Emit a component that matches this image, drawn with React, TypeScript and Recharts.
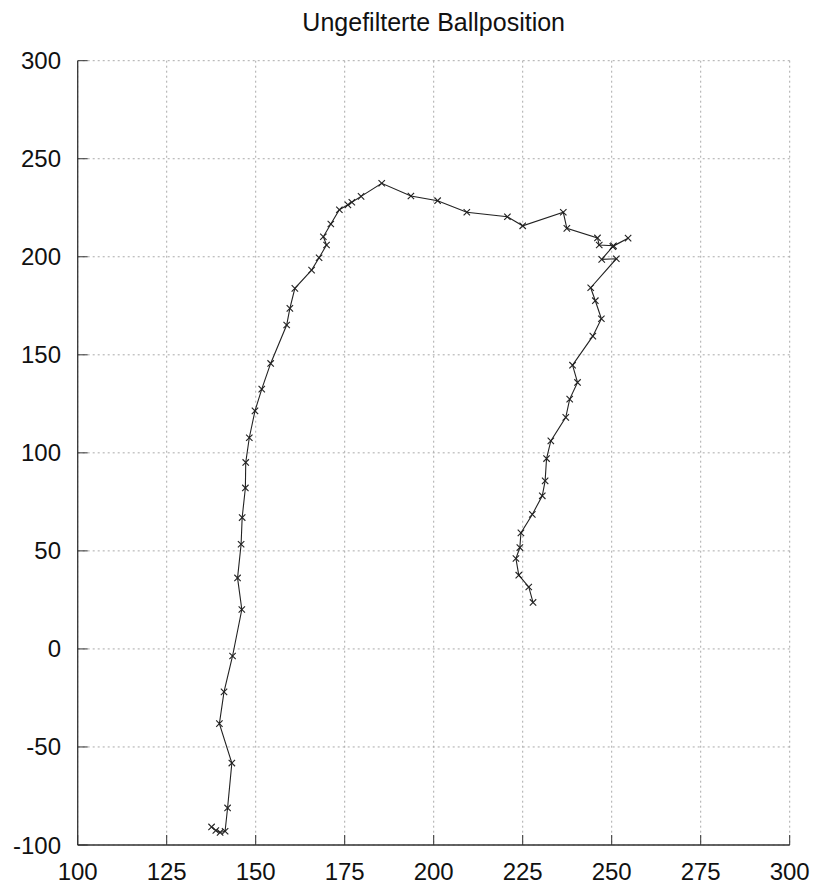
import React from 'react';
import {
  ScatterChart,
  Scatter,
  XAxis,
  YAxis,
  CartesianGrid,
} from 'recharts';

const chartTitle = 'Ungefilterte Ballposition';

const xTicks = [100, 125, 150, 175, 200, 225, 250, 275, 300];
const yTicks = [-100, -50, 0, 50, 100, 150, 200, 250, 300];

const ballX = [
  137.6, 138.8, 140.0, 141.4, 142.1, 143.3, 139.8, 141.1, 143.5, 146.1,
  144.9, 145.9, 146.2, 147.1, 147.2, 148.2, 149.8, 151.7, 154.2, 158.7,
  159.6, 161.0, 165.7, 167.8, 169.9, 169.0, 171.1, 173.5, 175.9, 177.0,
  179.6, 185.4, 193.6, 201.1, 209.3, 220.7, 225.0, 236.4, 237.4, 246.0,
  246.5, 250.5, 254.6, 250.3, 247.2, 251.3, 244.1, 245.4, 247.1, 244.7,
  239.0, 240.4, 238.2, 237.1, 232.9, 231.7, 231.3, 230.5, 227.7, 224.5,
  224.2, 223.1, 223.9, 226.7, 227.9,
];

const ballY = [
  -90.8, -92.6, -93.6, -93.0, -81.1, -58.2, -38.1, -21.9, -3.6, 20.1,
  36.2, 53.4, 67.0, 82.1, 95.1, 107.7, 121.4, 132.5, 145.6, 165.2,
  173.7, 183.9, 193.2, 199.5, 206.0, 210.2, 216.7, 224.0, 226.5, 227.8,
  230.8, 237.5, 231.0, 228.6, 222.7, 220.4, 215.8, 222.7, 214.5, 209.6,
  206.0, 205.6, 209.5, 205.2, 198.7, 199.0, 184.2, 177.6, 168.4, 159.5,
  144.7, 135.9, 127.4, 118.1, 106.1, 97.1, 85.7, 78.1, 68.6, 59.2,
  51.7, 46.1, 37.6, 31.6, 23.7,
];

const data = ballX.map((x, i) => ({ x, y: ballY[i] }));

const FONT = '"Liberation Sans", Arial, Helvetica, sans-serif';

const XMark = (props: any) => {
  const { cx, cy } = props;
  if (cx == null || cy == null) return null;
  const s = 3.2;
  return (
    <g>
      <line x1={cx - s} y1={cy - s} x2={cx + s} y2={cy + s} stroke="#222" strokeWidth={1.1} />
      <line x1={cx - s} y1={cy + s} x2={cx + s} y2={cy - s} stroke="#222" strokeWidth={1.1} />
    </g>
  );
};

const W = 819;
const H = 886;

export default function App() {
  const tickStyle = { fontSize: 24, fill: '#111', fontFamily: FONT };
  const frame = { stroke: '#333', strokeWidth: 1.3 };
  return (
    <div style={{ position: 'absolute', left: 0, top: 0, width: W, height: H, background: '#fff' }}>
      <ScatterChart
        width={W}
        height={H}
        margin={{ top: 60.7, right: 29.3, bottom: 0, left: 0 }}
      >
        <CartesianGrid stroke="#aaa" strokeDasharray="2 3" strokeWidth={1} />
        <XAxis
          type="number"
          dataKey="x"
          domain={[100, 300]}
          ticks={xTicks}
          allowDataOverflow
          height={41}
          tickSize={-10}
          tickMargin={28}
          axisLine={frame}
          tickLine={{ stroke: '#333', strokeWidth: 1 }}
          tick={tickStyle}
          interval={0}
        />
        <XAxis
          xAxisId="top"
          orientation="top"
          type="number"
          dataKey="x"
          domain={[100, 300]}
          ticks={xTicks}
          allowDataOverflow
          height={0}
          tickSize={-10}
          axisLine={frame}
          tickLine={{ stroke: '#333', strokeWidth: 1 }}
          tickFormatter={() => ''}
          interval={0}
        />
        <YAxis
          type="number"
          dataKey="y"
          domain={[-100, 300]}
          ticks={yTicks}
          allowDataOverflow
          width={77.7}
          tickSize={-10}
          tickMargin={26.7}
          axisLine={frame}
          tickLine={{ stroke: '#333', strokeWidth: 1 }}
          tick={tickStyle}
          interval={0}
        />
        <YAxis
          yAxisId="right"
          orientation="right"
          type="number"
          dataKey="y"
          domain={[-100, 300]}
          ticks={yTicks}
          allowDataOverflow
          width={0}
          tickSize={-10}
          axisLine={frame}
          tickLine={{ stroke: '#333', strokeWidth: 1 }}
          tickFormatter={() => ''}
          interval={0}
        />
        <Scatter
          data={data}
          line={{ stroke: '#222', strokeWidth: 1.1 }}
          lineType="joint"
          shape={<XMark />}
          isAnimationActive={false}
        />
      </ScatterChart>
      <svg
        width={W}
        height={50}
        style={{ position: 'absolute', left: 0, top: 0, pointerEvents: 'none' }}
      >
        <text
          x={433.7}
          y={30.7}
          textAnchor="middle"
          fontFamily={FONT}
          fontSize={25}
          fill="#111"
        >
          {chartTitle}
        </text>
      </svg>
    </div>
  );
}
